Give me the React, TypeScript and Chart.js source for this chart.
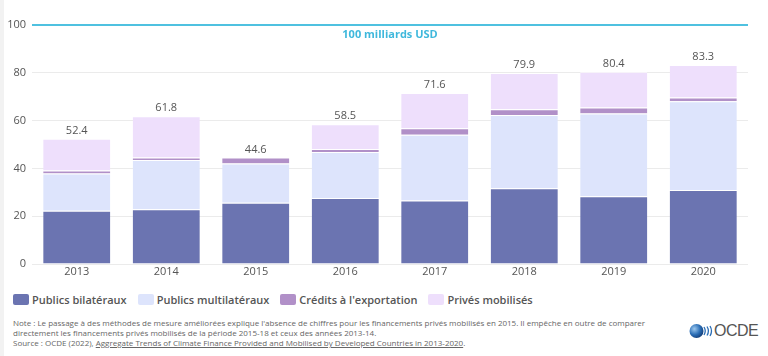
import React, { useEffect, useRef } from "react";
import { Chart, registerables } from "chart.js";

Chart.register(...registerables);

const years = ["2013", "2014", "2015", "2016", "2017", "2018", "2019", "2020"];
const publicsBilateraux = [22.3, 22.9, 25.6, 27.6, 26.6, 31.7, 28.3, 31.0];
const publicsMultilateraux = [15.6, 20.6, 16.5, 19.3, 27.5, 30.6, 34.7, 37.1];
const creditsExportation = [1.2, 1.1, 2.5, 1.2, 2.7, 2.4, 2.5, 1.6];
const privesMobilises = [13.3, 17.2, null, 10.4, 14.8, 15.2, 14.9, 13.6];
const yTicks = [0, 20, 40, 60, 80, 100];
const targetValue = 100;
const targetLabel = "100 milliards USD";

const seriesNames = ["Publics bilatéraux", "Publics multilatéraux", "Crédits à l'exportation", "Privés mobilisés"];
const seriesColors = ["#6b74b1", "#dde4fc", "#b190c8", "#eedffc"];

const FONT = "'Open Sans', 'Noto Sans', sans-serif";

export default function App() {
  const ref = useRef<HTMLCanvasElement>(null);

  useEffect(() => {
    if (!ref.current) return;
    const seriesData = [publicsBilateraux, publicsMultilateraux, creditsExportation, privesMobilises];

    const overlay = {
      id: "overlay",
      beforeDatasetsDraw(chart: any) {
        const { ctx, chartArea, scales } = chart;
        const y = scales.y.getPixelForValue(targetValue);
        ctx.save();
        ctx.strokeStyle = "#4fc1e0";
        ctx.lineWidth = 2;
        ctx.beginPath();
        ctx.moveTo(chartArea.left, y);
        ctx.lineTo(chartArea.right, y);
        ctx.stroke();
        ctx.fillStyle = "#3fb8dc";
        ctx.font = `bold 11px ${FONT}`;
        ctx.textAlign = "center";
        ctx.textBaseline = "middle";
        ctx.fillText(targetLabel, (chartArea.left + chartArea.right) / 2, y + 10);
        ctx.restore();
      },
      afterDatasetsDraw(chart: any) {
        const { ctx, scales } = chart;
        ctx.save();
        ctx.fillStyle = "#555";
        ctx.font = `11px ${FONT}`;
        ctx.textAlign = "center";
        ctx.textBaseline = "middle";
        years.forEach((_, i) => {
          const total = seriesData.reduce((s, arr) => s + ((arr[i] as number) || 0), 0);
          const x = scales.x.getPixelForValue(i);
          const y = scales.y.getPixelForValue(total);
          ctx.fillText(total.toFixed(1), x, y - 8);
        });
        ctx.restore();
      },
    };

    const chart = new Chart(ref.current, {
      type: "bar",
      data: {
        labels: years,
        datasets: seriesData.map((d, i) => ({
          label: seriesNames[i],
          data: d,
          backgroundColor: seriesColors[i],
          borderColor: "#ffffff",
          borderWidth: { top: 1, bottom: 0, left: 0, right: 0 },
          borderSkipped: false,
          categoryPercentage: 0.75,
          barPercentage: 1,
        })),
      },
      options: {
        animation: false,
        responsive: false,
        maintainAspectRatio: false,
        layout: { padding: { top: 25, right: 20, left: 0, bottom: 0 } },
        plugins: { legend: { display: false }, tooltip: { enabled: false } },
        scales: {
          x: {
            stacked: true,
            grid: { display: false, drawTicks: false },
            border: { display: false },
            ticks: { color: "#555", font: { family: FONT, size: 11 }, padding: 1 },
            afterFit: (s: any) => { s.height = 21; },
          },
          y: {
            stacked: true,
            min: 0,
            max: 100,
            afterBuildTicks: (s: any) => { s.ticks = yTicks.map((v) => ({ value: v })); },
            grid: {
              color: (c: any) => (c.tick && c.tick.value === targetValue ? "rgba(0,0,0,0)" : "#ebebeb"),
              drawTicks: false,
            },
            border: { display: false },
            ticks: { color: "#555", font: { family: FONT, size: 11 }, padding: 6 },
            afterFit: (s: any) => { s.width = 32; },
          },
        },
      },
      plugins: [overlay],
    });
    return () => chart.destroy();
  }, []);

  return (
    <div style={{ position: "fixed", left: 0, top: 0, width: 768, height: 356, background: "#fff", overflow: "hidden", fontFamily: FONT }}>
      <div style={{ position: "absolute", left: 0, top: 0, width: 4, height: 356, background: "#f2f2f2" }} />
      <canvas ref={ref} width={768} height={285} style={{ position: "absolute", left: 0, top: 0, width: 768, height: 285 }} />
      <div style={{ position: "absolute", left: 13, top: 292, display: "flex", alignItems: "center", height: 14 }}>
        {seriesNames.map((n, i) => (
          <div key={n} style={{ display: "flex", alignItems: "center", marginRight: 11 }}>
            <span style={{ display: "inline-block", width: 16, height: 11, background: seriesColors[i], borderRadius: 2, marginRight: 3 }} />
            <span style={{ fontSize: 11, fontWeight: 600, color: "#555", whiteSpace: "nowrap" }}>{n}</span>
          </div>
        ))}
      </div>
      <div style={{ position: "absolute", left: 13, top: 318, fontSize: 8, lineHeight: "10px", color: "#666", whiteSpace: "nowrap" }}>
        <div>Note : Le passage à des méthodes de mesure améliorées explique l'absence de chiffres pour les financements privés mobilisés en 2015. Il empêche en outre de comparer</div>
        <div>directement les financements privés mobilisés de la période 2015-18 et ceux des années 2013-14.</div>
        <div>Source : OCDE (2022), <span style={{ textDecoration: "underline" }}>Aggregate Trends of Climate Finance Provided and Mobilised by Developed Countries in 2013-2020</span>.</div>
      </div>
      <div style={{ position: "absolute", left: 689, top: 323, display: "flex", alignItems: "center", height: 16 }}>
        <svg width={24} height={16} viewBox="0 0 24 16">
          <defs>
            <radialGradient id="g" cx="35%" cy="35%" r="70%">
              <stop offset="0%" stopColor="#9cc8ee" />
              <stop offset="60%" stopColor="#2a6db5" />
              <stop offset="100%" stopColor="#143f7a" />
            </radialGradient>
          </defs>
          <circle cx={7.5} cy={8} r={7} fill="url(#g)" />
          <path d="M15 4 Q17.5 8 15 12" stroke="#2a6db5" strokeWidth={1.3} fill="none" />
          <path d="M18 3.5 Q20.8 8 18 12.5" stroke="#2a6db5" strokeWidth={1.3} fill="none" />
          <path d="M21 3 Q24 8 21 13" stroke="#2a6db5" strokeWidth={1.3} fill="none" />
        </svg>
        <span style={{ fontFamily: "'Liberation Sans', Arial, sans-serif", fontSize: 16, color: "#555", letterSpacing: -0.5, marginLeft: 1 }}>OCDE</span>
      </div>
    </div>
  );
}
